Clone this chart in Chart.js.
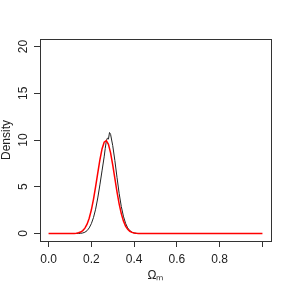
<!DOCTYPE html>
<html>
<head>
<meta charset="utf-8">
<script src="https://cdn.jsdelivr.net/npm/chart.js@4.4.1/dist/chart.umd.min.js"></script>
<style>html,body{margin:0;padding:0;background:#fff}</style>
</head>
<body>
<canvas id="chart" width="291" height="291"></canvas>
<script>
// posterior density (black) and a smooth fit (red)
const blackX = [0.13, 0.14, 0.15, 0.16, 0.17, 0.18, 0.19, 0.20, 0.21, 0.22, 0.23, 0.24, 0.25, 0.26, 0.265, 0.27, 0.275, 0.28, 0.285, 0.29, 0.295, 0.30, 0.31, 0.32, 0.33, 0.34, 0.35, 0.36, 0.37, 0.38, 0.39, 0.40, 0.41, 0.42, 0.43];
const blackY = [0, 0, 0.02, 0.06, 0.14, 0.30, 0.60, 1.05, 1.70, 2.60, 3.80, 5.20, 6.70, 8.20, 9.10, 9.90, 10.20, 10.10, 10.80, 10.60, 10.00, 9.40, 7.80, 6.00, 4.30, 2.90, 1.85, 1.10, 0.60, 0.30, 0.14, 0.06, 0.02, 0, 0];

const redX = [0.00, 0.12, 0.13, 0.14, 0.15, 0.16, 0.17, 0.18, 0.19, 0.20, 0.21, 0.22, 0.23, 0.24, 0.25, 0.26, 0.27, 0.28, 0.29, 0.30, 0.31, 0.32, 0.33, 0.34, 0.35, 0.36, 0.37, 0.38, 0.39, 0.40, 0.41, 0.42, 1.00];
const redY = [0, 0.01, 0.03, 0.08, 0.16, 0.31, 0.57, 1.00, 1.63, 2.51, 3.66, 5.01, 6.47, 7.88, 9.04, 9.76, 9.94, 9.53, 8.62, 7.34, 5.89, 4.45, 3.17, 2.13, 1.35, 0.80, 0.45, 0.24, 0.12, 0.06, 0.02, 0.01, 0];

const xTicks = [0, 0.2, 0.4, 0.6, 0.8, 1.0];
const xTickLabels = ['0.0', '0.2', '0.4', '0.6', '0.8', ''];
const yTicks = [0, 5, 10, 15, 20];

const toPoints = (xs, ys) => xs.map((x, i) => ({ x: x, y: ys[i] }));

const frame = {
  id: 'frame',
  afterDraw(chart) {
    const { ctx, chartArea: a } = chart;
    ctx.save();
    ctx.strokeStyle = '#333';
    ctx.lineWidth = 1;
    ctx.strokeRect(Math.round(a.left) + 0.5, Math.round(a.top) + 0.5,
      Math.round(a.right - a.left), Math.round(a.bottom - a.top));
    ctx.restore();
  }
};

const font = { family: '"Liberation Sans", Arial, sans-serif', size: 12 };

new Chart(document.getElementById('chart').getContext('2d'), {
  type: 'line',
  data: {
    datasets: [
      { data: toPoints(blackX, blackY), borderColor: '#222', borderWidth: 1, pointRadius: 0, tension: 0, order: 1 },
      { data: toPoints(redX, redY), borderColor: '#ff0000', borderWidth: 1.5, pointRadius: 0, tension: 0, order: 0 }
    ]
  },
  options: {
    responsive: false,
    animation: false,
    layout: { padding: { top: 39, right: 20, left: 0, bottom: 0 } },
    plugins: { legend: { display: false }, tooltip: { enabled: false } },
    scales: {
      x: {
        type: 'linear',
        min: -0.04,
        max: 1.04,
        afterBuildTicks: s => { s.ticks = xTicks.map(v => ({ value: v })); },
        afterFit: s => { s.height = 50; },
        grid: { drawOnChartArea: false, drawTicks: true, tickLength: 6, color: '#333' },
        border: { display: true, color: '#333' },
        ticks: {
          color: '#222', font: font, padding: 5, maxRotation: 0,
          callback: (v, i) => xTickLabels[i]
        },
        title: { display: true, text: 'Ωₘ', color: '#222', font: font, padding: { top: 0, bottom: 8 } }
      },
      y: {
        type: 'linear',
        min: -0.8,
        max: 20.8,
        afterBuildTicks: s => { s.ticks = yTicks.map(v => ({ value: v })); },
        afterFit: s => { s.width = 40; },
        grid: { drawOnChartArea: false, drawTicks: true, tickLength: 6, color: '#333' },
        border: { display: true, color: '#333' },
        ticks: {
          color: '#222', font: font, padding: 4, minRotation: 90, maxRotation: 90,
          crossAlign: 'center'
        },
        title: { display: true, text: 'Density', color: '#222', font: font, padding: { top: -1, bottom: 0 } }
      }
    }
  },
  plugins: [frame]
});
</script>
</body>
</html>
